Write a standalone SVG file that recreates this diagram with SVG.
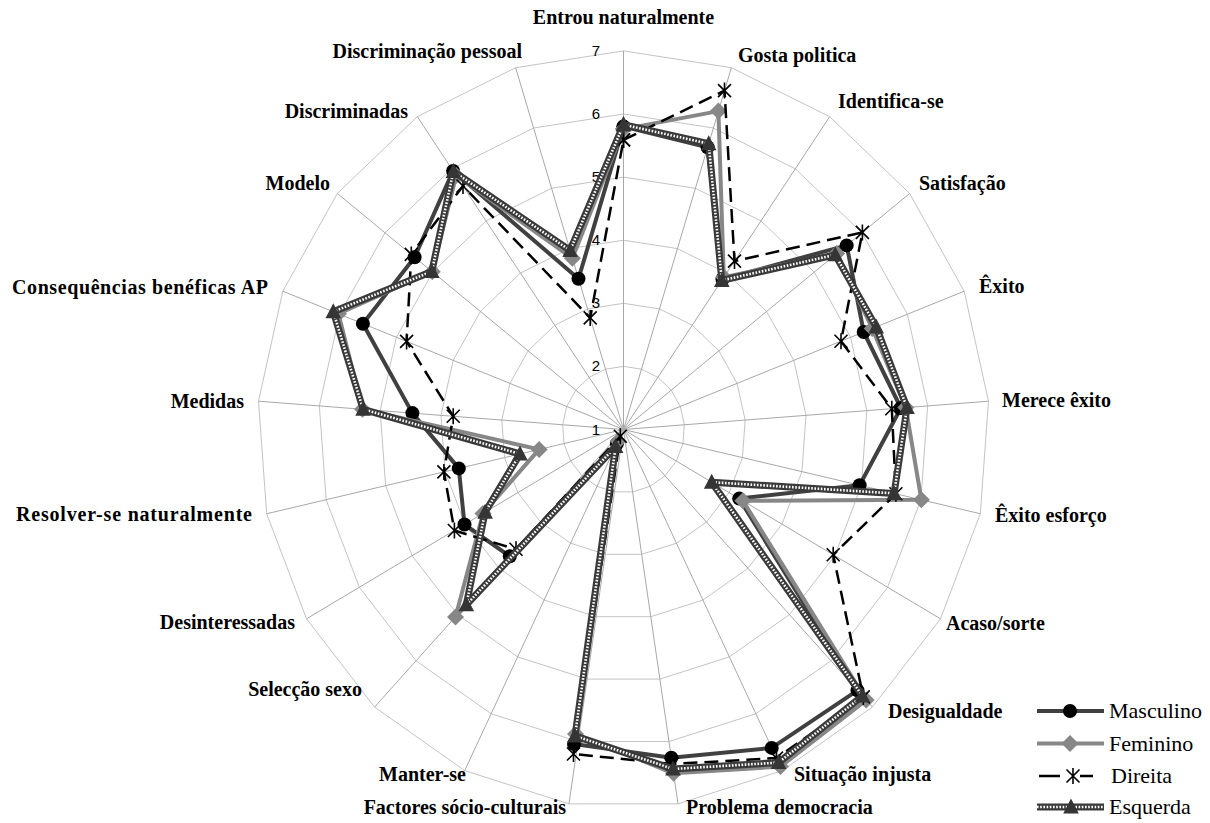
<svg xmlns="http://www.w3.org/2000/svg" xmlns:xlink="http://www.w3.org/1999/xlink" width="1210" height="823" viewBox="0 0 1210 823">
<style>
.ring{fill:none;stroke:#c4c4c4;stroke-width:1;vector-effect:non-scaling-stroke}
.spoke{fill:none;stroke:#a8a8a8;stroke-width:1;vector-effect:non-scaling-stroke}
.tick{font-family:"Liberation Sans",Arial,sans-serif;font-size:15px;fill:#000;text-anchor:end}
.cat{font-family:"Liberation Serif","Times New Roman",serif;font-size:20px;font-weight:bold;fill:#000}
.leg{font-family:"Liberation Serif","Times New Roman",serif;font-size:22px;fill:#000}
.masc{fill:none;stroke:#404040;stroke-width:4;stroke-linejoin:round}
.fem{fill:none;stroke:#878787;stroke-width:4;stroke-linejoin:round}
.dir{fill:none;stroke:#000;stroke-width:2.5;stroke-dasharray:14 7;stroke-linejoin:round}
.esqA{fill:none;stroke:#3a3a3a;stroke-width:7;stroke-linejoin:round}
.esqB{fill:none;stroke:#ffffff;stroke-width:2.6;stroke-dasharray:1.6 1.6;stroke-linejoin:round}
</style>
<defs>
<polygon id="ringU" class="ring" points="0,-63.1 17.98,-60.3 34.36,-52.14 47.69,-39.34 56.78,-23.05 60.83,-4.716 59.47,14.04 52.83,31.55 41.49,46.26 26.47,56.85 9.091,62.4 -9.091,62.4 -26.47,56.85 -41.49,46.26 -52.83,31.55 -59.47,14.04 -60.83,-4.716 -56.78,-23.05 -47.69,-39.34 -34.36,-52.14 -17.98,-60.3"/>
<marker id="mCirc" viewBox="-10 -10 20 20" markerWidth="20" markerHeight="20" refX="0" refY="0" markerUnits="userSpaceOnUse" overflow="visible"><circle r="7" fill="#000"/></marker>
<marker id="mDiam" viewBox="-10 -10 20 20" markerWidth="20" markerHeight="20" refX="0" refY="0" markerUnits="userSpaceOnUse" overflow="visible"><polygon points="0,-8.5 8.5,0 0,8.5 -8.5,0" fill="#878787"/></marker>
<marker id="mStar" viewBox="-10 -10 20 20" markerWidth="20" markerHeight="20" refX="0" refY="0" markerUnits="userSpaceOnUse" overflow="visible"><path d="M-6.5,-6.5L6.5,6.5M6.5,-6.5L-6.5,6.5M0,-8L0,8" fill="none" stroke="#000" stroke-width="1.6" stroke-dasharray="none"/></marker>
<marker id="mTri" viewBox="-10 -10 20 20" markerWidth="20" markerHeight="20" refX="0" refY="0" markerUnits="userSpaceOnUse" overflow="visible"><polygon points="0,-8.5 7.8,6.5 -7.8,6.5" fill="#353535"/></marker>
</defs>
<rect width="1210" height="823" fill="#fff"/>

<g id="grid">
<use xlink:href="#ringU" href="#ringU" transform="translate(623.5,429.5) scale(1)"/>
<use xlink:href="#ringU" href="#ringU" transform="translate(623.5,429.5) scale(2)"/>
<use xlink:href="#ringU" href="#ringU" transform="translate(623.5,429.5) scale(3)"/>
<use xlink:href="#ringU" href="#ringU" transform="translate(623.5,429.5) scale(4)"/>
<use xlink:href="#ringU" href="#ringU" transform="translate(623.5,429.5) scale(5)"/>
<use xlink:href="#ringU" href="#ringU" transform="translate(623.5,429.5) scale(6)"/>
<path class="spoke" transform="translate(623.5,429.5) scale(6)" d="M0 0V-63.1M0 0L17.98 -60.3M0 0L34.36 -52.14M0 0L47.69 -39.34M0 0L56.78 -23.05M0 0L60.83 -4.716M0 0L59.47 14.04M0 0L52.83 31.55M0 0L41.49 46.26M0 0L26.47 56.85M0 0L9.091 62.4M0 0L-9.091 62.4M0 0L-26.47 56.85M0 0L-41.49 46.26M0 0L-52.83 31.55M0 0L-59.47 14.04M0 0L-60.83 -4.716M0 0L-56.78 -23.05M0 0L-47.69 -39.34M0 0L-34.36 -52.14M0 0L-17.98 -60.3"/>
</g>

<g id="ticks">
<text class="tick" x="600" y="434.5">1</text>
<text class="tick" x="600" y="371.4">2</text>
<text class="tick" x="600" y="308.3">3</text>
<text class="tick" x="600" y="245.2">4</text>
<text class="tick" x="600" y="182.1">5</text>
<text class="tick" x="600" y="119">6</text>
<text class="tick" x="600" y="55.9">7</text>
</g>

<g id="connectors">
<g id="series-masculino">
<polygon class="masc" marker-start="url(#mCirc)" marker-mid="url(#mCirc)" marker-end="url(#mCirc)" points="623.5,126.6 707.6,147.3 722.5,279.3 846.7,245.4 863.7,332 900.9,408 859.6,485.2 739.2,498.6 857.5,690.4 771.7,747.9 671.3,757.7 574,744 616.9,443.7 509.8,556.3 464.5,524.5 458.8,468.4 412.4,413.1 362.9,323.7 414.6,257.2 453.1,170.9 578.5,278.7"/>
</g>
<g id="series-feminino">
<polygon class="fem" marker-start="url(#mDiam)" marker-mid="url(#mDiam)" marker-end="url(#mDiam)" points="623.5,129.1 718.4,111.1 723.8,277.3 836.7,253.6 872.2,328.5 905.8,407.6 921.4,499.8 742.9,500.8 866.2,700.1 780.5,766.6 673.6,773.3 575.5,734 618.2,440.9 455.5,616.9 483,513.4 539.1,449.4 362.5,409.3 338.5,313.8 432.3,271.7 456.2,175.6 572.4,258.2"/>
</g>
<g id="series-direita">
<polygon class="dir" marker-start="url(#mStar)" marker-mid="url(#mStar)" marker-end="url(#mStar)" points="623.5,139.9 724.5,90.6 734.5,261.1 862.4,232.4 841,341.2 891.8,408.7 895.9,493.8 833.2,554.8 863.3,696.9 776.5,758.1 672.2,764 573.5,754 620.3,436.3 516,549.3 454.4,530.5 443.9,471.9 453.2,416.3 406.6,341.4 411.3,254.4 463,186 590.2,317.9"/>
</g>
<g id="series-esquerda">
<polygon class="esqA" points="623.5,124.7 708.7,143.7 721.8,280.4 835.2,254.8 876.2,326.9 907,407.5 894.1,493.4 711.7,482.2 862.5,696 778.6,762.6 673,769 575,735.9 615.6,446.6 466.3,604.8 485.1,512.2 520,453.9 363.1,409.3 333.3,311.7 431.8,271.4 453.4,171.4 570.1,250.4"/>
<polygon class="esqB" marker-start="url(#mTri)" marker-mid="url(#mTri)" marker-end="url(#mTri)" points="623.5,124.7 708.7,143.7 721.8,280.4 835.2,254.8 876.2,326.9 907,407.5 894.1,493.4 711.7,482.2 862.5,696 778.6,762.6 673,769 575,735.9 615.6,446.6 466.3,604.8 485.1,512.2 520,453.9 363.1,409.3 333.3,311.7 431.8,271.4 453.4,171.4 570.1,250.4"/>
</g>
</g>

<g id="labels">
<text class="cat" x="623.5" y="24" text-anchor="middle">Entrou naturalmente</text>
<text class="cat" x="738" y="62">Gosta politica</text>
<text class="cat" x="838" y="108">Identifica-se</text>
<text class="cat" x="919" y="190">Satisfação</text>
<text class="cat" x="979" y="293">Êxito</text>
<text class="cat" x="1002" y="407">Merece êxito</text>
<text class="cat" x="995" y="522">Êxito esforço</text>
<text class="cat" x="946" y="630">Acaso/sorte</text>
<text class="cat" x="888" y="718">Desigualdade</text>
<text class="cat" x="794" y="781">Situação injusta</text>
<text class="cat" x="686" y="814">Problema democracia</text>
<text class="cat" x="566" y="814" text-anchor="end">Factores sócio-culturais</text>
<text class="cat" x="466" y="781" text-anchor="end">Manter-se</text>
<text class="cat" x="362" y="696" text-anchor="end">Selecção sexo</text>
<text class="cat" x="295" y="629" text-anchor="end">Desinteressadas</text>
<text class="cat" x="252" y="521" text-anchor="end" textLength="236" lengthAdjust="spacing">Resolver-se naturalmente</text>
<text class="cat" x="244" y="408" text-anchor="end">Medidas</text>
<text class="cat" x="268" y="294" text-anchor="end" textLength="256" lengthAdjust="spacing">Consequências benéficas AP</text>
<text class="cat" x="330" y="190" text-anchor="end">Modelo</text>
<text class="cat" x="408" y="118" text-anchor="end">Discriminadas</text>
<text class="cat" x="522" y="58" text-anchor="end">Discriminação pessoal</text>
</g>

<g id="legend">
<g id="legend-masculino">
<polyline class="masc" points="1037,711 1070,711 1104,711" marker-mid="url(#mCirc)"/>
<text class="leg" x="1109" y="718">Masculino</text>
</g>
<g id="legend-feminino">
<polyline class="fem" points="1037,743.5 1070,743.5 1104,743.5" marker-mid="url(#mDiam)"/>
<text class="leg" x="1109" y="751">Feminino</text>
</g>
<g id="legend-direita">
<path d="M1039,776H1060M1080,776H1093" fill="none" stroke="#000" stroke-width="2.5"/>
<polyline points="1060,776 1073,776 1080,776" fill="none" stroke="none" marker-mid="url(#mStar)"/>
<text class="leg" x="1111" y="783">Direita</text>
</g>
<g id="legend-esquerda">
<polyline class="esqA" points="1037,807 1104,807"/>
<polyline class="esqB" points="1037,807 1071,807 1104,807" marker-mid="url(#mTri)"/>
<text class="leg" x="1109" y="814">Esquerda</text>
</g>
</g>
</svg>
